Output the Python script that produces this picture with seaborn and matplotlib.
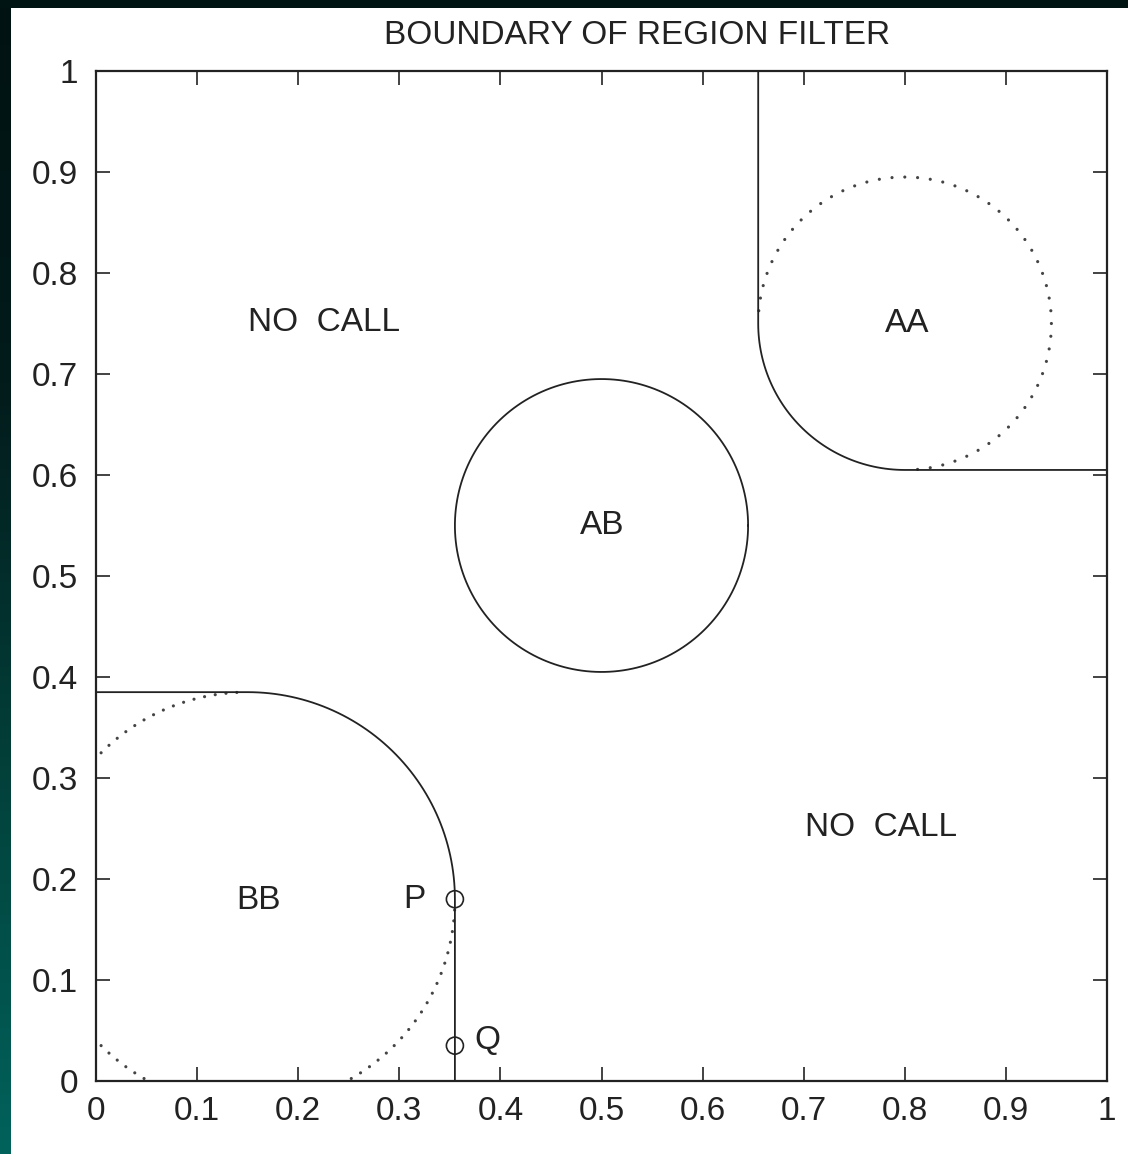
import numpy as np
import pandas as pd
import matplotlib
matplotlib.use("Agg")
import matplotlib.pyplot as plt
import seaborn as sns

# Genotype cluster centres and radii (normalised intensity space)
cluster_names = ["AA", "AB", "BB"]
centre_x = [0.80, 0.50, 0.15]
centre_y = [0.75, 0.55, 0.18]
radius = [0.145, 0.145, 0.205]

# Straight boundary segments bounding the homozygous regions
aa_vertical_x = 0.655
aa_horizontal_y = 0.605
bb_horizontal_y = 0.385
bb_vertical_x = 0.355

# Marked points on the BB boundary
point_names = ["P", "Q"]
point_x = [0.355, 0.355]
point_y = [0.18, 0.035]

# Region labels
label_text = ["NO  CALL", "NO  CALL", "AA", "AB", "BB", "P", "Q"]
label_x = [0.226, 0.776, 0.802, 0.501, 0.161, 0.3145, 0.387]
label_y = [0.751, 0.251, 0.750, 0.550, 0.179, 0.180, 0.040]

tick_values = [0, 0.1, 0.2, 0.3, 0.4, 0.5, 0.6, 0.7, 0.8, 0.9, 1]
tick_labels = ["0", "0.1", "0.2", "0.3", "0.4", "0.5", "0.6", "0.7", "0.8", "0.9", "1"]

title = "BOUNDARY OF REGION FILTER"

sns.set_style("ticks")
plt.rcParams["font.family"] = ["Liberation Sans", "DejaVu Sans"]
INK = "#222222"
FS = 24

fig = plt.figure(figsize=(11.28, 11.54), dpi=100, facecolor="white")

# dark frame along the top and left edges
strip = fig.add_axes([0, 0, 11 / 1128, 1])
grad = np.linspace(0, 1, 256).reshape(-1, 1)
cmap = matplotlib.colors.LinearSegmentedColormap.from_list(
    "edge", ["#01625c", "#03403a", "#021b1b", "#011212"])
strip.imshow(grad, aspect="auto", cmap=cmap, origin="lower", extent=[0, 1, 0, 1])
strip.set_axis_off()
top = fig.add_axes([0, 1 - 8 / 1154, 1, 8 / 1154])
top.set_facecolor("#011414")
top.set_xticks([]); top.set_yticks([])
for s in top.spines.values():
    s.set_visible(False)

ax = fig.add_axes([96 / 1128, 73 / 1154, 1011 / 1128, 1010 / 1154])


def arc(cx, cy, r, a0, a1, n):
    t = np.radians(np.linspace(a0, a1, n))
    return cx + r * np.cos(t), cy + r * np.sin(t)


def solid(xs, ys):
    df = pd.DataFrame({"x": xs, "y": ys})
    sns.lineplot(data=df, x="x", y="y", sort=False, estimator=None,
                 color=INK, lw=1.3, ax=ax)


def dotted(xs, ys):
    df = pd.DataFrame({"x": xs, "y": ys})
    sns.scatterplot(data=df, x="x", y="y", s=5, color="#444444",
                    edgecolor="none", ax=ax)


# AA: vertical line, quarter arc, horizontal line
cx, cy, r = centre_x[0], centre_y[0], radius[0]
ax_, ay_ = arc(cx, cy, r, 180, 270, 60)
solid(np.r_[aa_vertical_x, ax_, 1.0], np.r_[1.0, ay_, aa_horizontal_y])
dx, dy = arc(cx, cy, r, 275, 535, 53)
dotted(dx, dy)

# AB: full circle
cx, cy, r = centre_x[1], centre_y[1], radius[1]
bx, by = arc(cx, cy, r, 0, 360, 200)
solid(bx, by)

# BB: horizontal line, quarter arc, vertical line
cx, cy, r = centre_x[2], centre_y[2], radius[2]
qx, qy = arc(cx, cy, r, 90, 0, 60)
solid(np.r_[0.0, qx, bb_vertical_x], np.r_[bb_horizontal_y, qy, 0.0])
dx, dy = arc(cx, cy, r, 93, 357, 89)
keep = (dx >= 0) & (dy >= 0)
dotted(dx[keep], dy[keep])

# P and Q markers
sns.scatterplot(x=point_x, y=point_y, marker="o", s=150, facecolor="none",
                edgecolor=INK, linewidth=1.2, ax=ax, zorder=5)

for t, x, y in zip(label_text, label_x, label_y):
    ax.text(x, y, t, ha="center", va="center", fontsize=FS, color=INK)

ax.set_xlim(0, 1)
ax.set_ylim(0, 1)
ax.set_xlabel("")
ax.set_ylabel("")
ax.set_xticks(tick_values)
ax.set_xticklabels(tick_labels)
ax.set_yticks(tick_values)
ax.set_yticklabels(tick_labels)
ax.tick_params(direction="in", length=10, width=1.2, color=INK,
               labelsize=FS, labelcolor=INK, top=True, right=True, pad=11)
ax.tick_params(axis="y", pad=13)
for s in ax.spines.values():
    s.set_color(INK)
    s.set_linewidth(1.6)
    s.set_visible(True)

fig.text(637 / 1128, 1 - 36 / 1154, title, ha="center", va="center",
         fontsize=FS, color=INK)

fig.savefig("out.png", dpi=100, facecolor="white")
